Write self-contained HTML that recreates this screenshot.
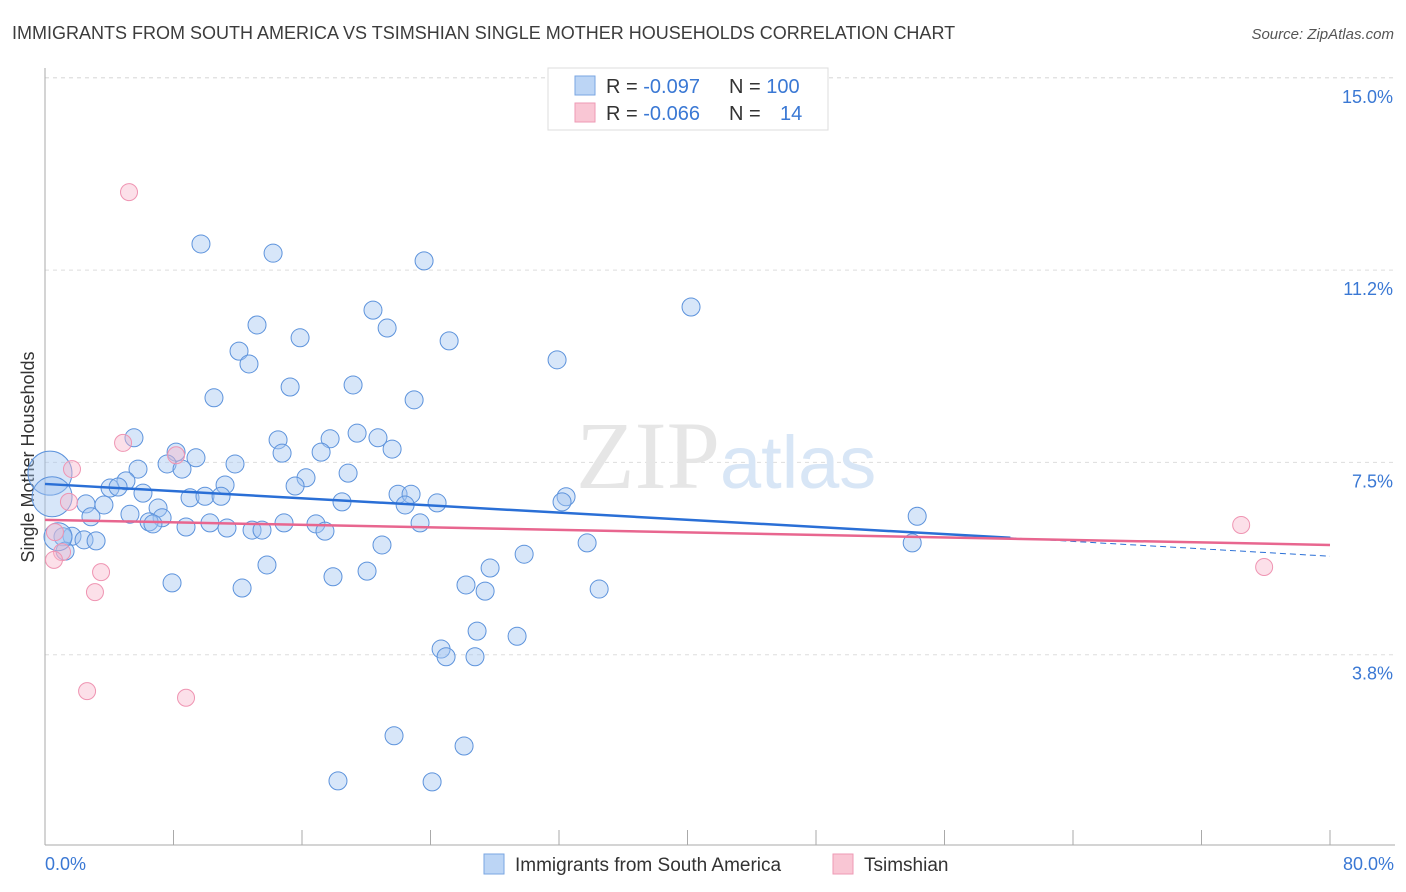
<!DOCTYPE html>
<html><head><meta charset="utf-8"><style>
body{margin:0;background:#fff;font-family:"Liberation Sans",sans-serif;}
svg{display:block}
</style></head><body>
<svg id="chart" width="1406" height="892" xmlns="http://www.w3.org/2000/svg">
<text x="12" y="39" font-size="18" fill="#3c3c3c">IMMIGRANTS FROM SOUTH AMERICA VS TSIMSHIAN SINGLE MOTHER HOUSEHOLDS CORRELATION CHART</text>
<text x="1394" y="39" font-size="15" fill="#555" font-style="italic" text-anchor="end">Source: ZipAtlas.com</text>
<g id="grid"></g>
<text x="720" y="488" font-size="96" fill="#e6e6e6" text-anchor="end" font-family="Liberation Serif,serif">ZIP</text>
<text x="720" y="488" font-size="74" fill="#d8e6f6">atlas</text>
<line x1="45" y1="68" x2="45" y2="845" stroke="#aaa"/>
<line x1="45" y1="845" x2="1395" y2="845" stroke="#aaa"/>
<g id="xticks"></g>
<g id="yticks"></g>
<text x="34" y="457" font-size="18" fill="#333" text-anchor="middle" transform="rotate(-90 34 457)">Single Mother Households</text>
<text x="45" y="870" font-size="18" fill="#3a78d4">0.0%</text>
<text x="1394" y="870" font-size="18" fill="#3a78d4" text-anchor="end">80.0%</text>
<g id="pts"></g>
<g id="lines"></g>
<g>
<rect x="548" y="68" width="280" height="62" fill="#fff" stroke="#ddd"/>
<rect x="575" y="76" width="20" height="19" fill="#bcd5f5" stroke="#7aa6e2"/>
<rect x="575" y="103" width="20" height="19" fill="#f9c6d4" stroke="#ee9ab4"/>
<text x="606" y="93" font-size="20" fill="#333">R = <tspan fill="#3a78d4">-0.097</tspan><tspan x="729">N = </tspan><tspan fill="#3a78d4">100</tspan></text>
<text x="606" y="120" font-size="20" fill="#333">R = <tspan fill="#3a78d4">-0.066</tspan><tspan x="729">N = </tspan><tspan x="780" fill="#3a78d4">14</tspan></text>
</g>
<g>
<rect x="484" y="854" width="20" height="20" fill="#bcd5f5" stroke="#7aa6e2"/>
<text x="515" y="871" font-size="19" fill="#333">Immigrants from South America</text>
<rect x="833" y="854" width="20" height="20" fill="#f9c6d4" stroke="#ee9ab4"/>
<text x="864" y="871" font-size="19" fill="#333">Tsimshian</text>
</g>
</svg>
<script>
const yTickValues=[3.75,7.5,11.25,15];
const yTickLabels=["3.8%","7.5%","11.2%","15.0%"];
const blueX=[9.71,14.20,23.60,40.22,13.20,20.42,21.30,15.88,25.16,12.08,12.70,31.88,15.26,19.18,10.52,22.98,5.54,14.51,17.75,19.43,20.73,21.61,8.16,9.40,14.76,17.19,7.60,8.53,11.83,18.87,5.79,16.25,5.04,4.05,4.55,15.57,11.21,6.10,9.03,9.96,10.96,21.98,22.79,18.49,24.41,22.42,32.44,32.19,2.55,3.67,2.86,5.29,7.04,7.29,6.48,6.72,8.78,10.27,11.33,12.89,13.51,14.88,16.87,17.43,23.35,54.30,1.68,1.12,2.43,3.18,1.25,20.98,33.75,53.99,29.83,13.82,27.71,7.91,12.27,17.93,20.05,26.21,27.40,34.50,26.90,29.39,24.66,24.97,26.77,21.73,26.09,18.24,24.10,0.31,0.44,0.81];
const blueY=[11.76,11.58,11.43,10.53,10.18,10.47,10.12,9.93,9.87,9.67,9.42,9.50,8.97,9.01,8.76,8.72,7.98,7.94,7.96,8.07,7.98,7.76,7.70,7.59,7.68,7.70,7.47,7.37,7.47,7.29,7.37,7.20,7.14,7.00,7.02,7.04,7.06,6.90,6.81,6.84,6.84,6.88,6.88,6.73,6.71,6.67,6.83,6.73,6.69,6.67,6.44,6.49,6.61,6.42,6.34,6.30,6.24,6.32,6.22,6.18,6.18,6.32,6.30,6.16,6.32,6.45,6.06,6.05,5.99,5.97,5.77,5.89,5.93,5.93,5.71,5.50,5.44,5.15,5.05,5.27,5.38,5.11,4.99,5.03,4.21,4.11,3.86,3.71,3.71,2.17,1.97,1.29,1.27,7.29,6.83,6.05];
const blueSize=[];
const pinkX=[5.23,1.68,1.49,8.16,4.86,0.62,1.06,0.56,3.49,3.11,2.62,8.78,74.47,75.90];
const pinkY=[12.77,7.37,6.73,7.64,7.88,6.14,5.75,5.60,5.36,4.97,3.04,2.91,6.28,5.46];
const blueTrend=[[0,7.08],[60.1,6.03]];
const blueTrendDash=[[60.1,6.03],[80,5.67]];
const pinkTrend=[[0,6.38],[80,5.89]];
const NS="http://www.w3.org/2000/svg";
const X=v=>45+v*16.0625;
const Y=v=>847-v*51.28;
function mk(tag,attrs,parent){const e=document.createElementNS(NS,tag);for(const k in attrs)e.setAttribute(k,attrs[k]);parent.appendChild(e);return e;}
const grid=document.getElementById('grid'),yt=document.getElementById('yticks'),xt=document.getElementById('xticks');
yTickValues.forEach((v,i)=>{
  const l=mk('line',{x1:45,x2:1395,y1:Y(v),y2:Y(v),stroke:'#ddd','stroke-dasharray':'4 4'},grid);
  
  
  const t=mk('text',{x:1393,y:Y(v)+25,'font-size':18,fill:'#3a78d4','text-anchor':'end'},yt);
  t.textContent=yTickLabels[i];
  
  
});
mk('line',{x1:45,x2:1395,y1:Y(15),y2:Y(15),stroke:'#ddd','stroke-dasharray':'4 4'},grid);
for(let i=1;i<=10;i++){const t=mk('line',{x1:X(i*8),x2:X(i*8),y1:830,y2:845,stroke:'#aaa'},xt);
  
  }
const pts=document.getElementById('pts');
const sizes={93:22,94:20,95:14};
blueX.forEach((x,i)=>{const c=mk('circle',{cx:X(x),cy:Y(blueY[i]),r:sizes[i]||9,fill:'rgba(160,196,240,0.42)',stroke:'#5d93dc','stroke-width':1},pts);
  
  });
pinkX.forEach((x,i)=>{const c=mk('circle',{cx:X(x),cy:Y(pinkY[i]),r:8.5,fill:'rgba(248,182,202,0.42)',stroke:'#ef94b2','stroke-width':1},pts);
  
  });
const lines=document.getElementById('lines');
const b=mk('line',{x1:X(blueTrend[0][0]),y1:Y(blueTrend[0][1]),x2:X(blueTrend[1][0]),y2:Y(blueTrend[1][1]),stroke:'#2a6fd6','stroke-width':2.5},lines);


const bd=mk('line',{x1:X(blueTrendDash[0][0]),y1:Y(blueTrendDash[0][1]),x2:X(blueTrendDash[1][0]),y2:Y(blueTrendDash[1][1]),stroke:'#2a6fd6','stroke-width':1,'stroke-dasharray':'6 4'},lines);


const p=mk('line',{x1:X(pinkTrend[0][0]),y1:Y(pinkTrend[0][1]),x2:X(pinkTrend[1][0]),y2:Y(pinkTrend[1][1]),stroke:'#e8668f','stroke-width':2.5},lines);


</script>
</body></html>
